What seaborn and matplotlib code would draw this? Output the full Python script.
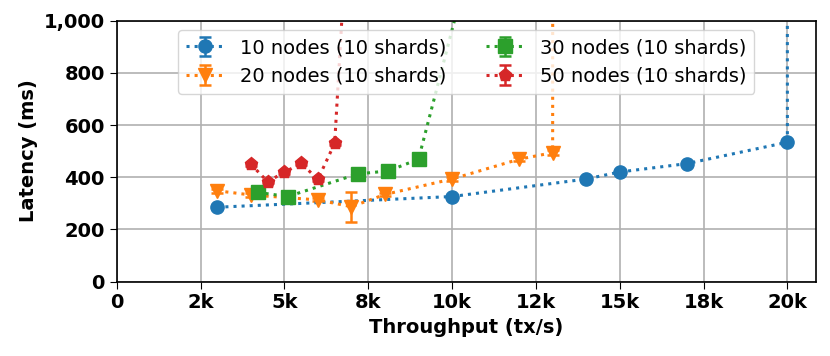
import numpy as np
import matplotlib
matplotlib.use("Agg")
import matplotlib.pyplot as plt
from matplotlib.ticker import FuncFormatter
import seaborn as sns

# datos (throughput en tx/s, latencia en ms)
x_10 = [3000, 10000, 14000, 15000, 17000, 20000, 19990]
y_10 = [285, 326, 393, 420, 452, 534, 5000]
e_10 = [6, 6, 6, 6, 6, 8, 0]

x_20 = [3000, 4000, 6000, 7000, 8000, 10000, 12000, 13000, 13010]
y_20 = [348, 332, 313, 287, 334, 393, 469, 494, 5000]
e_20 = [8, 6, 6, 57, 6, 8, 8, 10, 0]

x_30 = [4200, 5100, 7200, 8100, 9000, 11000]
y_30 = [342, 326, 413, 424, 469, 1460]
e_30 = [6, 6, 6, 6, 6, 0]

x_50 = [4000, 4500, 5000, 5500, 6000, 6500, 7000]
y_50 = [450, 383, 419, 453, 392, 530, 1640]
e_50 = [6, 6, 6, 6, 6, 8, 0]

etiquetas = ["10 nodes (10 shards)", "20 nodes (10 shards)",
             "30 nodes (10 shards)", "50 nodes (10 shards)"]

sns.set_style("ticks")
plt.rcParams['font.family'] = ['DejaVu Sans']
# texto en negro puro como en la original
plt.rcParams.update({'text.color': 'black', 'axes.labelcolor': 'black',
                     'xtick.color': 'black', 'ytick.color': 'black'})
colores = sns.color_palette("tab10")

fig, ax = plt.subplots(figsize=(8.3, 3.56), dpi=100)
fig.subplots_adjust(left=0.1406, right=0.983, top=0.942, bottom=0.209)

series = [(x_10, y_10, e_10, 'o'), (x_20, y_20, e_20, 'v'),
          (x_30, y_30, e_30, 's'), (x_50, y_50, e_50, 'p')]

for i, (xs, ys, es, m) in enumerate(series):
    ax.errorbar(xs, ys, yerr=es, fmt=m, linestyle=':', linewidth=2.2,
                markersize=9.5, capsize=4, elinewidth=1.8, capthick=1.8,
                color=colores[i], label=etiquetas[i])

ax.set_xlim(0, 20850)
ax.set_ylim(0, 1000)
ax.set_xticks(np.arange(0, 20001, 2500))
ax.set_yticks(np.arange(0, 1001, 200))
ax.xaxis.set_major_formatter(FuncFormatter(lambda v, p: "0" if v == 0 else f"{round(v / 1000)}k"))
ax.yaxis.set_major_formatter(FuncFormatter(lambda v, p: f"{int(v):,}"))

for lab in ax.get_xticklabels() + ax.get_yticklabels():
    lab.set_fontweight('bold')
ax.tick_params(labelsize=14, direction='out', length=5, color='black')

ax.grid(True, color='#b0b0b0', linewidth=1.2)
for s in ax.spines.values():
    s.set_color('black')
    s.set_linewidth(1.2)

ax.set_xlabel("Throughput (tx/s)", fontsize=14, fontweight='bold')
ax.set_ylabel("Latency (ms)", fontsize=14, fontweight='bold')

ax.legend(loc='upper center', ncol=2, fontsize=14)

fig.savefig("out.png", dpi=100)
